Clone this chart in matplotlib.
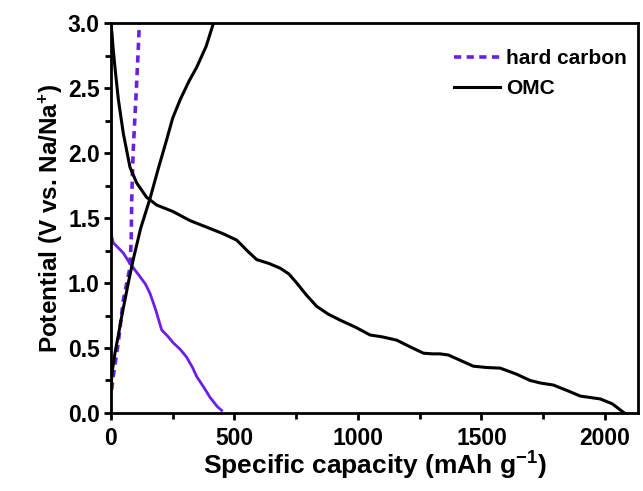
import numpy as np
import matplotlib
matplotlib.use("Agg")
from matplotlib import pyplot as plt
from matplotlib.ticker import MultipleLocator, FormatStrFormatter

plt.rcParams['font.family'] = ['Liberation Sans', 'DejaVu Sans']
plt.rcParams['font.weight'] = 'bold'
plt.rcParams['mathtext.fontset'] = 'custom'
plt.rcParams['mathtext.rm'] = 'Liberation Sans:bold'
plt.rcParams['mathtext.bf'] = 'Liberation Sans:bold'
plt.rcParams['mathtext.default'] = 'bf'

# OMC discharge
omc_dis_cap = [0, 4, 8, 16, 30, 50, 77, 104, 144, 185, 251, 320, 387, 453, 509, 556,
               590, 640, 684, 720, 752, 790, 833, 880, 927, 990, 1049, 1100, 1157, 1210,
               1265, 1300, 1332, 1366, 1420, 1467, 1520, 1576, 1640, 1697, 1740, 1791,
               1850, 1900, 1981, 2030, 2078]
omc_dis_v = [3.0, 2.92, 2.82, 2.66, 2.41, 2.15, 1.89, 1.77, 1.66, 1.60, 1.55, 1.48,
             1.43, 1.38, 1.33, 1.24, 1.18, 1.15, 1.115, 1.07, 1.0, 0.91, 0.82, 0.76,
             0.715, 0.66, 0.60, 0.585, 0.56, 0.51, 0.46, 0.455, 0.455, 0.446, 0.40,
             0.36, 0.35, 0.345, 0.30, 0.25, 0.23, 0.215, 0.17, 0.13, 0.108, 0.07, 0.0]
# OMC charge
omc_ch_cap = [0, 5, 16, 30, 43, 70, 90, 120, 158, 190, 225, 250, 280, 315, 347, 385, 415]
omc_ch_v = [0.2, 0.32, 0.46, 0.60, 0.74, 1.0, 1.18, 1.42, 1.65, 1.87, 2.10, 2.27,
            2.41, 2.55, 2.66, 2.82, 3.0]
# hard carbon discharge
hc_dis_cap = [0, 0, 1, 3, 9, 30, 50, 77, 117, 140, 158, 180, 205, 230, 252, 280, 306,
              330, 347, 375, 401, 430, 448]
hc_dis_v = [2.36, 1.8, 1.45, 1.36, 1.31, 1.27, 1.23, 1.15, 1.05, 0.99, 0.92, 0.80,
            0.64, 0.59, 0.54, 0.49, 0.43, 0.35, 0.28, 0.20, 0.12, 0.05, 0.02]
# hard carbon charge
hc_ch_cap = [3, 9, 30, 50, 77, 80, 82, 84, 87, 90, 97, 104, 110, 115]
hc_ch_v = [0.18, 0.28, 0.55, 0.87, 1.12, 1.25, 1.35, 1.64, 1.85, 2.02, 2.28, 2.54,
           2.78, 3.0]

purple = '#6a1fe6'

fig = plt.figure(figsize=(6.43, 4.91), dpi=100)
ax = fig.add_axes([0.1726, 0.1589, 0.8194, 0.7941])

ax.plot(hc_dis_cap, hc_dis_v, color=purple, lw=2.0)
ax.plot(hc_ch_cap, hc_ch_v, color=purple, lw=2.6, ls=(0, (2, 1.5)), label='hard carbon')
ax.plot(omc_dis_cap, omc_dis_v, color='black', lw=2.2, label='OMC')
ax.plot(omc_ch_cap, omc_ch_v, color='black', lw=2.2)

ax.set_xlim(0, 2133)
ax.set_ylim(0, 3.0)
ax.xaxis.set_major_locator(MultipleLocator(500))
ax.xaxis.set_minor_locator(MultipleLocator(250))
ax.yaxis.set_major_locator(MultipleLocator(0.5))
ax.yaxis.set_minor_locator(MultipleLocator(0.25))
ax.yaxis.set_major_formatter(FormatStrFormatter('%.1f'))
ax.tick_params(which='major', direction='out', length=5, width=2, labelsize=16.5, pad=3)
ax.tick_params(which='minor', direction='out', length=4, width=2)
ax.tick_params(axis='x', pad=5)
for s in ax.spines.values():
    s.set_linewidth(2)

ax.set_xlabel('Specific capacity (mAh g$^{-1}$)', fontsize=19, fontweight='bold', labelpad=0)
ax.set_ylabel('Potential (V vs. Na/Na$^{+}$)', fontsize=17.5, fontweight='bold', labelpad=2)

leg = ax.legend(loc='upper right', bbox_to_anchor=(0.995, 0.955), frameon=False,
                fontsize=15, handlelength=2.2, handletextpad=0.3, labelspacing=0.55,
                borderaxespad=0.0)

fig.savefig('out.png', dpi=100)
